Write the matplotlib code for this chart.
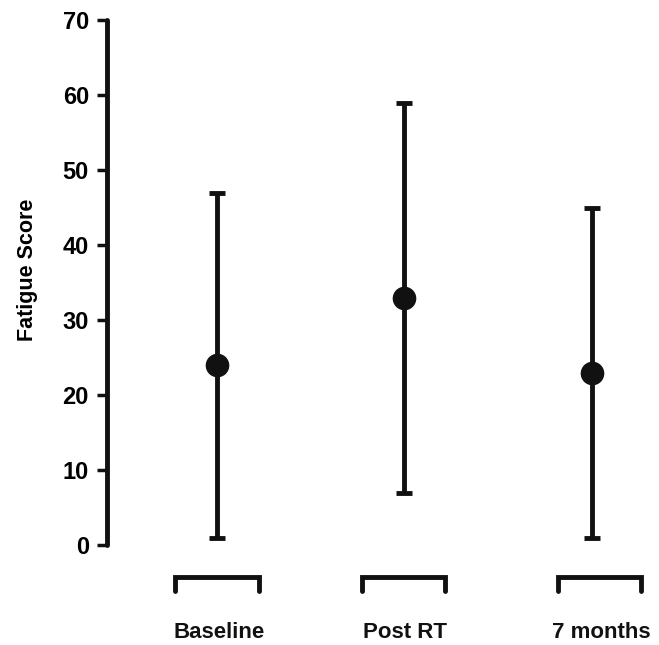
import matplotlib
matplotlib.use("Agg")
import matplotlib.pyplot as plt
import matplotlib.transforms as mtransforms

categories = ["Baseline", "Post RT", "7 months"]
means = [24, 33, 23]
lows = [1, 7, 1]
highs = [47, 59, 45]
yticks = [0, 10, 20, 30, 40, 50, 60, 70]

plt.rcParams['font.family'] = ['Liberation Sans', 'DejaVu Sans']
plt.rcParams['font.weight'] = 'bold'

fig = plt.figure(figsize=(6.59, 6.45), dpi=100)
W, H = 659, 645
left, right = 107, 650
top, bottom = 20, 545
ax = fig.add_axes([left / W, 1 - bottom / H, (right - left) / W, (bottom - top) / H])

x = [1, 2, 3]
col = "#111111"
yerr = [[m - l for m, l in zip(means, lows)], [h - m for m, h in zip(means, highs)]]
ax.errorbar(x, means, yerr=yerr, fmt='o', color=col, ms=16, elinewidth=3.5,
            capsize=6, capthick=3.5, zorder=3)

ax.set_ylim(0, 70)
ax.set_xlim(0.413, 3.31)
ax.set_yticks(yticks)
ax.set_yticklabels([str(t) for t in yticks], fontsize=17, fontweight='bold')
ax.tick_params(axis='y', direction='out', length=7, width=2.5, color=col, pad=6)
ax.set_xticks([])
for s in ['top', 'right', 'bottom']:
    ax.spines[s].set_visible(False)
ax.spines['left'].set_linewidth(3.5)
ax.spines['left'].set_color(col)
ax.spines['left'].set_capstyle('round')

ax.set_ylabel("Fatigue Score", fontsize=15.5, fontweight='bold')
ax.yaxis.set_label_coords(-(107 - 38) / (right - left), 0.524)

# bracket-style x axis
trans = mtransforms.blended_transform_factory(ax.transData, ax.transAxes)
hw = 0.222
y_top = -(577 - bottom) / (bottom - top)
y_bot = -(591 - bottom) / (bottom - top)
offsets = [0.0, -0.005, 0.04]
for xi, off, lab in zip(x, offsets, categories):
    c = xi + off
    ax.plot([c - hw, c - hw, c + hw, c + hw], [y_bot, y_top, y_top, y_bot],
            transform=trans, color=col, lw=3.5, clip_on=False,
            solid_capstyle='round', solid_joinstyle='miter')
    ax.text(c + 0.01, -(633 - bottom) / (bottom - top), lab, transform=trans,
            ha='center', va='center', fontsize=16, fontweight='bold', color=col)

fig.savefig("out.png", dpi=100)
